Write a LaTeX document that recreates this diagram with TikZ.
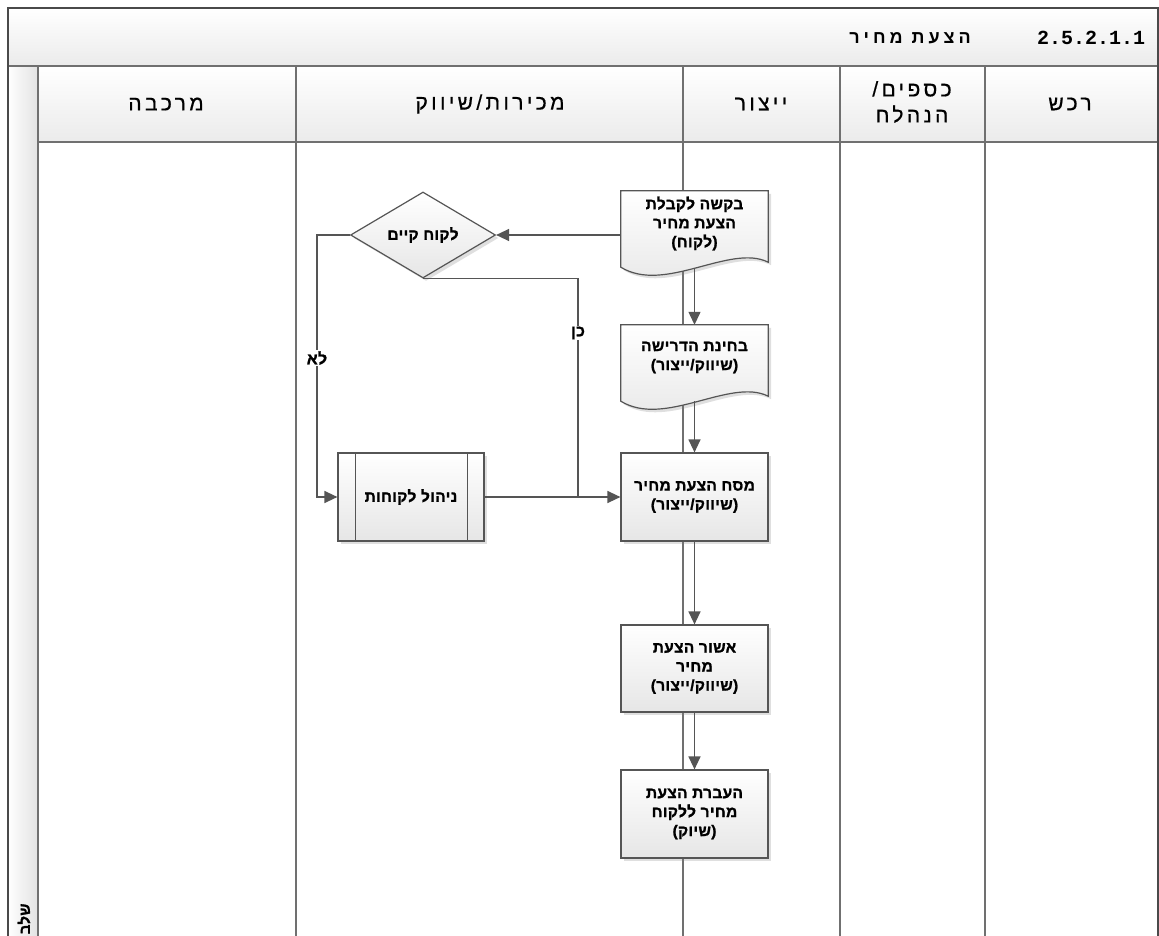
\documentclass[tikz,border=0pt]{standalone}
\usepackage{fontspec}
\setmainfont{Liberation Sans}
\newfontfamily\hebh[Script=Hebrew,LetterSpace=16,FakeBold=0.6]{Liberation Sans}
\newfontfamily\hebt[Script=Hebrew,LetterSpace=22]{Liberation Sans Bold}
\newfontfamily\hebb[Script=Hebrew,LetterSpace=2,FakeBold=1.3]{Liberation Sans Bold}
\newfontfamily\monof{Liberation Mono Bold}
\usetikzlibrary{shapes.geometric,arrows.meta,shadows,calc}
\TeXXeTstate=1
\newcommand\hr[1]{\beginR #1\endR}
\definecolor{lanegray}{HTML}{707070}
\definecolor{edgegray}{HTML}{555555}
\definecolor{nodebot}{HTML}{E6E6E6}
\definecolor{hdrbot}{HTML}{EBEBEB}
\definecolor{stripc}{HTML}{E2E2E2}
\definecolor{outerc}{HTML}{4A4A4A}
\pgfdeclarelayer{bg}
\pgfdeclarelayer{mid}
\pgfsetlayers{bg,mid,main}
\newcommand\docpath[1]{%
  \path[draw=edgegray,line width=1.2pt,nodefill,shad]
  (#1.north west) -- (#1.north east) -- ($(#1.south east)+(0,6)$)
  .. controls ($(#1.south east)+(-38,-13)$) and ($(#1.south west)+(44,38)$) .. ($(#1.south west)+(0,11)$) -- cycle;}
\begin{document}
\begin{tikzpicture}[x=1pt,y=-1pt,
  lanel/.style={draw=lanegray,line width=1.5pt},
  conn/.style={draw=edgegray,line width=1.3pt,-{Triangle[length=13pt,width=12pt]}},
  pline/.style={draw=edgegray,line width=1.3pt},
  nodefill/.style={top color=white,bottom color=nodebot},
  shad/.style={drop shadow={shadow xshift=3pt,shadow yshift=-3pt,opacity=0.25}},
  ntext/.style={align=center,font=\hebb\fontsize{15.5}{19}\selectfont,text=black},
  boxn/.style={rectangle,draw=edgegray,line width=1.2pt,nodefill,shad,ntext,minimum width=147pt,minimum height=88pt,inner sep=2pt},
  docn/.style={rectangle,draw=none,ntext,minimum width=147pt,inner sep=0pt},
  dian/.style={diamond,draw=edgegray,line width=1.2pt,nodefill,shad,ntext,minimum width=145pt,minimum height=86pt,aspect=1.69,inner sep=1pt},
  lbl/.style={fill=white,inner sep=1pt,font=\hebb\fontsize{16}{16}\selectfont},
  hdr/.style={font=\hebh\fontsize{21}{26}\selectfont,align=center},
]
\useasboundingbox (0,0) rectangle (1159,936);
\clip (0,0) rectangle (1159,936);
\begin{pgfonlayer}{bg}
\fill[white] (0,0) rectangle (1159,936);
\shade[top color=white,bottom color=hdrbot] (8,8) rectangle (1158,66);
\shade[top color=white,bottom color=hdrbot] (38,66) rectangle (1158,142);
\shade[left color=white,right color=stripc] (8,66) rectangle (38,936);
\draw[lanel] (8,66) -- (1158,66);
\draw[lanel] (38,142) -- (1158,142);
\foreach \x in {38,296,683,840,985} {\draw[lanel] (\x,66) -- (\x,936);}
\draw[draw=outerc,line width=1.5pt] (8,936) -- (8,8) -- (1158,8) -- (1158,936);
\end{pgfonlayer}

% titles
\node[font=\monof\fontsize{20}{24}\selectfont] (tnum) at (1091,38) {2.5.2.1.1};
\node[font=\hebt\fontsize{18}{22}\selectfont] (tname) at (910,38) {\hr{הצעת מחיר}};
\node[hdr] (h1) at (166,104) {\hr{מרכבה}};
\node[hdr] (h2) at (490,104) {\hr{מכירות/שיווק}};
\node[hdr] (h3) at (761,104) {\hr{ייצור}};
\node[hdr] (h4) at (912,102) {\hr{כספים/}\\\hr{הנהלח}};
\node[hdr] (h5) at (1070,104) {\hr{רכש}};
\node[font=\hebb\fontsize{15}{15}\selectfont,rotate=90,anchor=east] (stage) at (24,900) {\hr{שלב}};

% nodes
\node[docn,minimum height=65pt] (n1) at (694.5,223.5) {\hr{בקשה לקבלת}\\\hr{הצעת מחיר}\\\hr{(לקוח)}};
\node[docn,minimum height=65pt] (n2) at (694.5,357.5) {\hr{בחינת הדרישה}\\\hr{(שיווק/ייצור)}};
\begin{pgfonlayer}{mid}
\docpath{n1}
\docpath{n2}
\end{pgfonlayer}
\node[boxn] (n3) at (694.5,497) {\hr{מסח הצעת מחיר}\\\hr{(שיווק/ייצור)}};
\node[boxn,minimum height=87pt] (n4) at (694.5,668.5) {\hr{אשור הצעת}\\\hr{מחיר}\\\hr{(שיווק/ייצור)}};
\node[boxn] (n5) at (694.5,814) {\hr{העברת הצעת}\\\hr{מחיר ללקוח}\\\hr{(שיוק)}};
\node[dian] (dia) at (423,235) {\hr{לקוח קיים}};
\node[boxn,minimum width=146pt] (np) at (411,497) {\hr{ניהול לקוחות}};
\draw[edgegray,line width=1.2pt] ($(np.north west)+(18,0)$) -- ($(np.south west)+(18,0)$);
\draw[edgegray,line width=1.2pt] ($(np.north east)+(-17,0)$) -- ($(np.south east)+(-17,0)$);

% connectors
\coordinate (yesc) at (578,497);
\coordinate (noc) at (317,235);
\draw[conn] (n1.west |- dia.east) -- (dia.east);
\draw[conn] ($(n1.south)+(0,12)$) -- (n2.north);
\draw[conn] ($(n2.south)+(0,11)$) -- (n3.north);
\draw[conn] (n3.south) -- (n4.north);
\draw[conn] (n4.south) -- (n5.north);
\draw[pline] (dia.south) -| (yesc);
\draw[conn] (dia.west) -- (noc) |- (np.west);
\draw[conn] (np.east) -- (n3.west);
\node[lbl] (yes) at (578,333) {\hr{כן}};
\node[lbl] (no) at (317,358) {\hr{לא}};
\end{tikzpicture}
\end{document}
